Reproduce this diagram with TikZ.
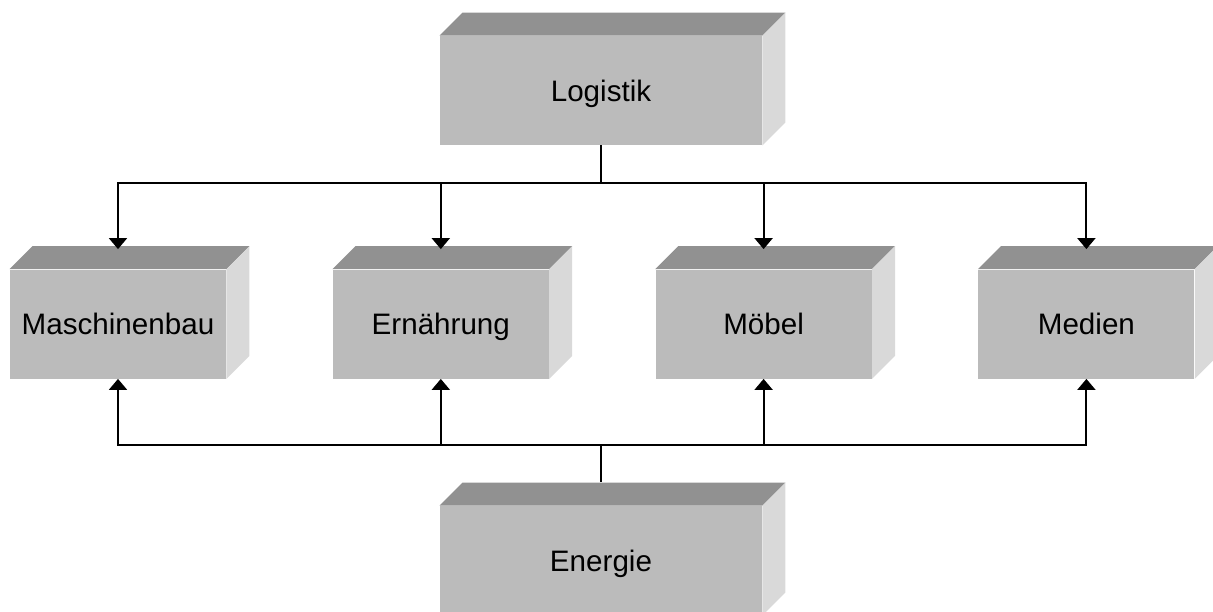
\documentclass[tikz,border=0pt]{standalone}
\usepackage{fontspec}
\setmainfont{Liberation Sans}
\usetikzlibrary{positioning,arrows.meta}
\definecolor{frontgray}{HTML}{BBBBBB}
\definecolor{topgray}{HTML}{919191}
\definecolor{sidegray}{HTML}{D9D9D9}
\begin{document}
\begin{tikzpicture}[x=0.5pt,y=-0.5pt,node distance=53pt,
            box node/.style={fill=frontgray,minimum width=108pt,minimum height=54.5pt,
              inner sep=0pt,text height=10.5pt,text depth=0pt,font=\fontsize{14.8}{17}\selectfont},
            wide/.style={minimum width=161pt},
            link/.style={line width=1pt,-{Triangle[width=9pt,length=5.5pt]}}]
        \useasboundingbox (0,0) rectangle (1213,611);
        \clip (0,0) rectangle (1213,611);

        % Define boxes
        \node[box node,wide] (log) at (601,90.5) {Logistik};
        \node[box node] (mas) at (118,324) {Maschinenbau};
        \node[box node] (ern) [right=of mas] {Ernährung};
        \node[box node] (moe) [right=of ern] {Möbel};
        \node[box node] (med) [right=of moe] {Medien};
        \node[box node,wide] (ene) at (601,560.5) {Energie};

        % Top and side faces
        \foreach \n in {log,mas,ern,moe,med,ene} {
            \fill[topgray] (\n.north west) -- ++(23,-23) -- ([shift={(23,-23)}]\n.north east) -- (\n.north east) -- cycle;
            \fill[sidegray] (\n.north east) -- ++(23,-23) -- ([shift={(23,-23)}]\n.south east) -- (\n.south east) -- cycle;
        }

        % Draw edges
        \coordinate (top hub) at (601,183);
        \coordinate (bottom hub) at (601,445);
        \foreach \n in {mas,ern,moe,med} {
            \draw[link,shorten >=10pt] (log) -- (top hub) -| (\n.north);
            \draw[link] ([yshift=12pt]ene.north) -- (bottom hub) -| (\n.south);
        }

        \end{tikzpicture}
\end{document}
